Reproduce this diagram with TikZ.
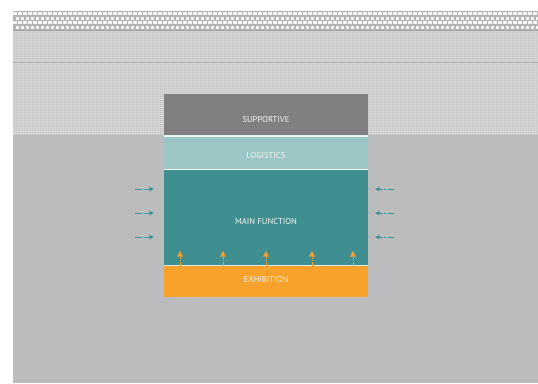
\documentclass[tikz,border=0pt]{standalone}
\usepackage{fontspec}
\setmainfont{PT Sans}
\usetikzlibrary{arrows.meta,positioning,calc,patterns.meta}
\definecolor{groundgray}{HTML}{BBBCBE}
\definecolor{supcol}{HTML}{808082}
\definecolor{logcol}{HTML}{9CC5C5}
\definecolor{maincol}{HTML}{3F8F90}
\definecolor{exhcol}{HTML}{F8A12B}
\definecolor{checklight}{HTML}{DADADA}
\definecolor{checkdark}{HTML}{ACACAC}
\tikzdeclarepattern{
  name=checks,
  type=uncolored,
  bottom left={(0pt,0pt)},
  top right={(2pt,2pt)},
  tile size={(2pt,2pt)},
  code={\fill (0pt,0pt) rectangle (1pt,1pt); \fill (1pt,1pt) rectangle (2pt,2pt);}
}
\tikzset{
  block/.style={rectangle,inner sep=0pt,minimum width=204pt},
  lbl/.style={text=white!92!gray,font=\fontsize{8.6}{10}\selectfont},
  inflow/.style={maincol,line width=0.8pt,dash pattern=on 1.6pt off 0.6pt,-{Triangle[width=4.5pt,length=4.5pt,line width=0pt]}},
  upflow/.style={exhcol,line width=0.7pt,dash pattern=on 1.6pt off 0.6pt,-{Triangle[width=6pt,length=5.5pt,line width=0pt]}}
}
\begin{document}
\begin{tikzpicture}[x=1pt,y=-1pt]
  \useasboundingbox (0,0) rectangle (538,383);
  % ground and layers
  \fill[groundgray] (13,11) rectangle (538,383);
  \fill[checklight] (13,31) rectangle (538,135);
  \fill[pattern=checks,pattern color=checkdark] (13,31) rectangle (538,135);
  \fill[checkdark] (13,61.5) rectangle (538,62.5);
  % brick band
  \fill[checkdark!90!white] (13,11) rectangle (538,31);
  \foreach \r/\y in {0/12,1/16.5,2/21,3/25.5}{
    \pgfmathsetmacro\off{mod(\r,2)*2.5}
    \foreach \x in {13,18,...,533}{
      \fill[white!92!gray] ({\x+\off},\y) rectangle ({min(\x+\off+3.6,538)},\y+3);
    }
  }
  \fill[checkdark!95!black] (13,30) rectangle (538,31);
  % building blocks
  \node[block,fill=supcol,minimum height=41pt] (supp) at (266,114.5) {};
  \fill[white!80!logcol] (164,135) rectangle (368,137);
  \node[block,fill=logcol,minimum height=32pt] (logi) at (266,153) {};
  \fill[white] (164,169) rectangle (368,170);
  \node[block,fill=maincol,minimum height=95pt] (main) at (266,217.5) {};
  \fill[white!85!maincol] (164,265) rectangle (368,266);
  \node[block,fill=exhcol,minimum height=31pt] (exhi) at (266,281.5) {};
  % labels
  \node[lbl] (supptxt) at (266,119) {SUPPORTIVE};
  \node[lbl] (logitxt) at (266,155) {LOGISTICS};
  \node[lbl] (maintxt) at (266,221.5) {MAIN FUNCTION};
  \node[lbl] (exhitxt) at (266,279) {EXHIBITION};
  % side flows
  \foreach \i/\y in {1/189,2/213,3/237}{
    \coordinate (wa\i) at (135,\y);
    \coordinate (wb\i) at ([xshift=-10pt]main.west |- wa\i);
    \draw[inflow] (wa\i) -- (wb\i);
    \coordinate (ea\i) at (394,\y);
    \coordinate (eb\i) at ([xshift=7pt]main.east |- ea\i);
    \draw[inflow] (ea\i) -- (eb\i);
  }
  % upward flows
  \foreach \i/\x in {1/180,2/223,3/266,4/312,5/353}{
    \coordinate (up\i) at (\x,251);
    \draw[upflow] (exhi.north -| up\i) -- (up\i);
  }
\end{tikzpicture}
\end{document}
